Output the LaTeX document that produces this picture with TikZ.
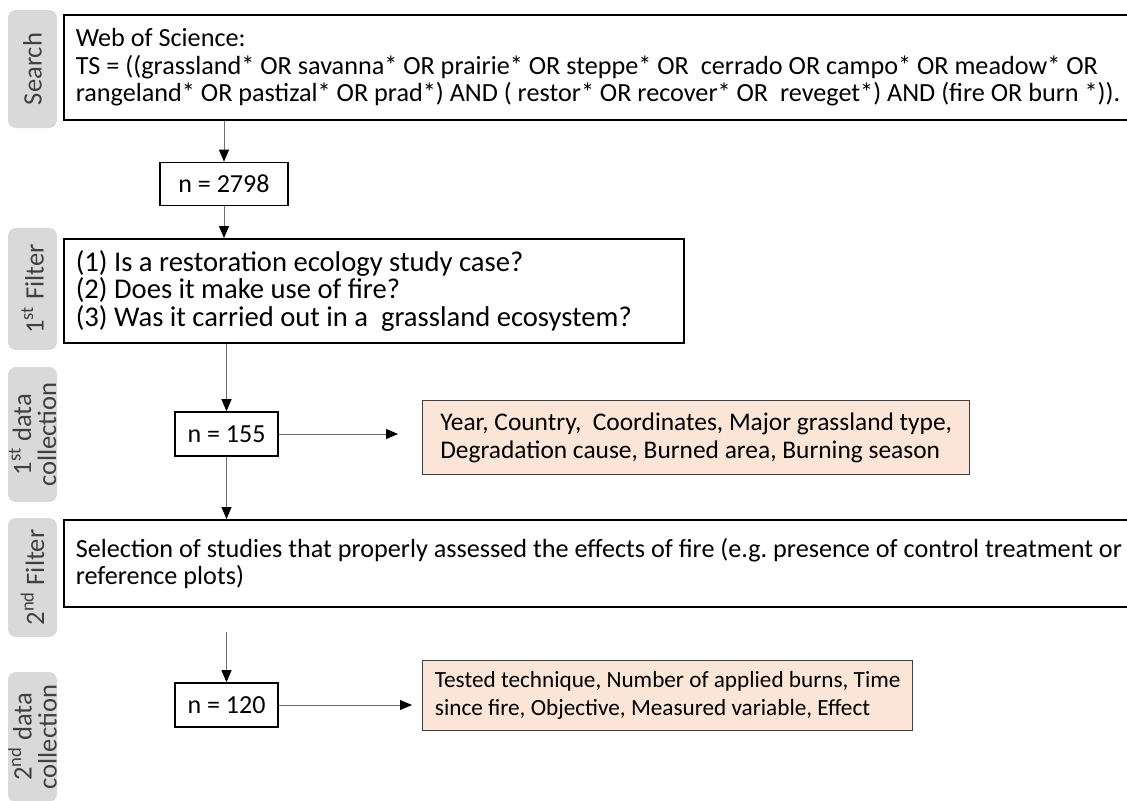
\documentclass[tikz,border=0pt]{standalone}
\usepackage{fontspec}
\setmainfont{Carlito}
\usetikzlibrary{arrows.meta,positioning,calc}
\definecolor{tagGray}{RGB}{217, 217, 217}
\definecolor{tagInk}{RGB}{64, 64, 64}
\definecolor{noteFill}{RGB}{251, 229, 214}
\definecolor{noteRule}{RGB}{64, 64, 64}
\definecolor{shaftGray}{RGB}{110, 110, 110}

\begin{document}
\begin{tikzpicture}[
      x=0.5pt, y=-0.5pt,
      tag/.style={fill=tagGray, rounded corners=4pt, rotate=90, align=center, inner sep=0pt, minimum height=24.5pt, font=\fontsize{13.3pt}{12.5pt}\selectfont\color{tagInk}},
      stage/.style={draw=black, line width=0.8pt, anchor=north west, align=flush left, inner xsep=6pt, font=\fontsize{13.1pt}{13.6pt}\selectfont},
      count/.style={draw=black, line width=0.8pt, minimum width=51.5pt, minimum height=22pt, inner sep=0pt, font=\fontsize{13pt}{13.6pt}\selectfont},
      note/.style={draw=noteRule, fill=noteFill, line width=0.7pt, anchor=north west, align=left, inner sep=0pt, font=\fontsize{12.7pt}{13.8pt}\selectfont},
      arr/.style={-{Triangle[length=6pt, width=5pt, color=black]}, line width=0.5pt, draw=shaftGray}
  ]
      \useasboundingbox (0,0) rectangle (1127,800);

      % SIDE TAGS
      \node[tag, minimum width=59pt] (tSearch) at (32.5, 69) {Search};
      \node[tag, minimum width=61pt] (tFilterA) at (32.5, 289) {1\textsuperscript{st} Filter};
      \node[tag, minimum width=67.5pt] (tDataA) at (32.5, 434.5) {1\textsuperscript{st} data\\collection};
      \node[tag, minimum width=59.5pt] (tFilterB) at (32.5, 577.5) {2\textsuperscript{nd} Filter};
      \node[tag, minimum width=65pt] (tDataB) at (32.5, 737) {2\textsuperscript{nd} data\\collection};

      % SEARCH
      \node[stage, text width=545pt, minimum height=52.5pt] (search) at (63, 14) {Web of Science:\\TS = ((grassland* OR savanna* OR prairie* OR steppe* OR\ \ cerrado OR campo* OR meadow* OR\\rangeland* OR pastizal* OR prad*) AND ( restor* OR recover* OR\ \ reveget*) AND (fire OR burn *)).};
      \node[count, minimum width=64pt, minimum height=21.5pt] (nSearch) at (224, 184) {n = 2798};

      % 1ST FILTER
      \node[stage, text width=298pt, minimum height=52pt, font=\fontsize{14.3pt}{13.8pt}\selectfont] (filterA) at (63, 238) {(1) Is a restoration ecology study case?\\(2) Does it make use of fire?\\(3) Was it carried out in a\ \ grassland ecosystem?};
      \node[count] (nFilterA) at (226.5, 434) {n = 155};
      \node[note, minimum width=273.5pt, minimum height=37pt] (dataA) at (422, 400) {Year, Country,\ \ Coordinates, Major grassland type,\\Degradation cause, Burned area, Burning season};

      % 2ND FILTER
      \node[stage, text width=545pt, minimum height=43.5pt] (filterB) at (63, 519) {Selection of studies that properly assessed the effects of fire (e.g.\ presence of control treatment or\\reference plots)};
      \node[count] (nFilterB) at (226.5, 705) {n = 120};
      \node[note, minimum width=245pt, minimum height=35pt, font=\fontsize{11.6pt}{14pt}\selectfont] (dataB) at (422, 660) {Tested technique, Number of applied burns, Time\\since fire, Objective, Measured variable, Effect};

      \draw[arr] (nSearch |- search.south) -- (nSearch);
      \draw[arr] (nSearch) -- (nSearch |- filterA.north);
      \draw[arr] (nFilterA |- filterA.south) -- (nFilterA);
      \draw[arr, shorten >=12pt] (nFilterA) -- (nFilterA -| dataA.west);
      \draw[arr] (nFilterA) -- (nFilterA |- filterB.north);
      \draw[arr, shorten <=12pt] (nFilterB |- filterB.south) -- (nFilterB);
      \draw[arr, shorten >=5pt] (nFilterB) -- (nFilterB -| dataB.west);
  \end{tikzpicture}
\end{document}
